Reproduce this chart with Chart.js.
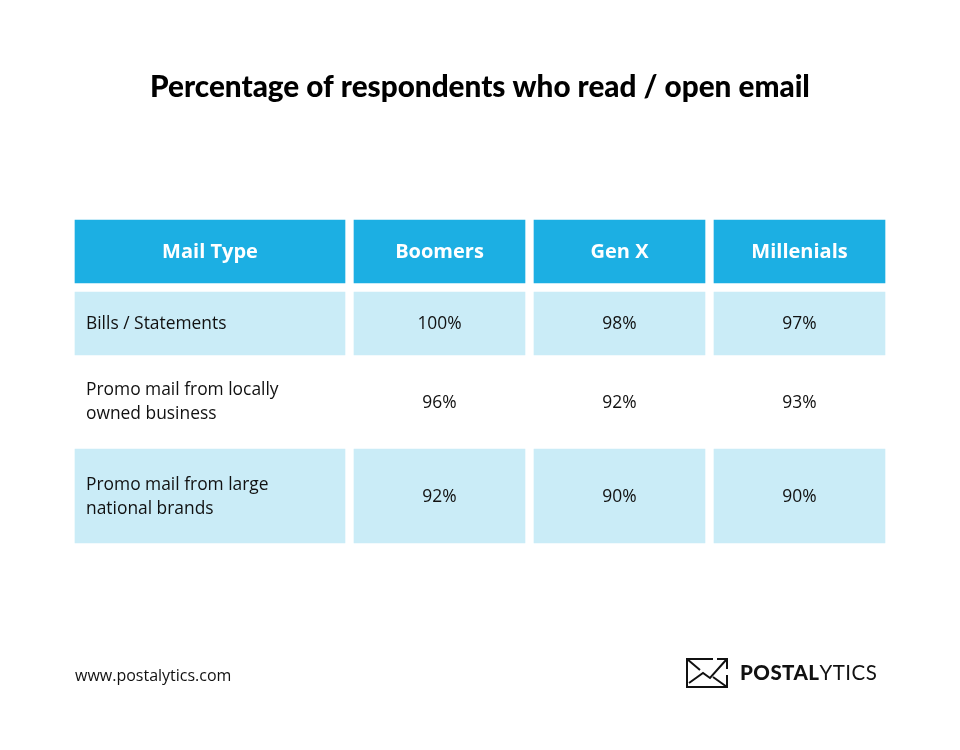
<!DOCTYPE html>
<html>
<head>
<meta charset="utf-8">
<title>Percentage of respondents who read / open email</title>
<script src="https://cdn.jsdelivr.net/npm/chart.js@4/dist/chart.umd.min.js"></script>
<style>
  html, body { margin: 0; padding: 0; background: #fff; }
  canvas { display: block; }
</style>
</head>
<body>
<canvas id="tableChart" width="960" height="750"></canvas>
<script>
// Table data
const columnHeaders = ['Mail Type', 'Boomers', 'Gen X', 'Millenials'];
const mailTypes = [
  ['Bills / Statements'],
  ['Promo mail from locally', 'owned business'],
  ['Promo mail from large', 'national brands']
];
const boomers = [100, 96, 92];
const genX = [98, 92, 90];
const millenials = [97, 93, 90];

// Table layout, in canvas units
const colLeft = [75, 354, 534, 714];
const colWidth = [270, 171, 171, 171];
const rowTop = [220, 292, 364, 449];
const rowBottom = [283, 355, 439, 543];

const headerColor = '#1cafe3';
const stripeColor = '#caecf7';
const textColor = '#111111';

// every column is one dataset of floating bars: header + body rows
const columnValues = [mailTypes.map(() => null), boomers, genX, millenials];
const datasets = columnValues.map((values, c) => ({
  label: columnHeaders[c],
  barThickness: colWidth[c],
  data: rowTop.map((top, r) => ({ x: colLeft[c] + colWidth[c] / 2, y: [top, rowBottom[r]] })),
  backgroundColor: [headerColor, stripeColor, 'rgba(0,0,0,0)', stripeColor],
  borderWidth: 0
}));

const textPlugin = {
  id: 'tableText',
  afterDatasetsDraw(chart) {
    const ctx = chart.ctx;
    const { x: xs, y: ys } = chart.scales;
    ctx.save();
    ctx.textBaseline = 'middle';

    // title
    ctx.fillStyle = '#000';
    ctx.textAlign = 'center';
    ctx.font = '900 29.7px Lato';
    ctx.fillText('Percentage of respondents who read / open email', xs.getPixelForValue(480), ys.getPixelForValue(87.5));

    columnValues.forEach((values, c) => {
      const bars = chart.getDatasetMeta(c).data;
      const cx = bars[0].x;
      // header
      ctx.fillStyle = '#fff';
      ctx.textAlign = 'center';
      ctx.font = '700 20px "Open Sans"';
      ctx.fillText(columnHeaders[c], cx, bars[0].getCenterPoint().y + 1);
      // body
      ctx.fillStyle = textColor;
      ctx.font = '400 17.4px "Open Sans"';
      mailTypes.forEach((lines, r) => {
        const cy = bars[r + 1].getCenterPoint().y + 1;
        if (c === 0) {
          ctx.textAlign = 'left';
          lines.forEach((line, i) => {
            ctx.fillText(line, xs.getPixelForValue(colLeft[0] + 11), cy + (i - (lines.length - 1) / 2) * 24);
          });
        } else {
          ctx.textAlign = 'center';
          ctx.fillText(values[r] + '%', cx, cy + (r === 1 ? 1 : 0));
        }
      });
    });

    // footer
    ctx.textAlign = 'left';
    ctx.font = '400 16px "Open Sans"';
    ctx.fillText('www.postalytics.com', xs.getPixelForValue(75), ys.getPixelForValue(676));

    // logo envelope
    ctx.strokeStyle = '#111';
    ctx.lineWidth = 2;
    ctx.beginPath();
    ctx.moveTo(713, 659); ctx.lineTo(687, 659); ctx.lineTo(687, 687); ctx.lineTo(727, 687); ctx.lineTo(727, 675);
    ctx.moveTo(717, 659); ctx.lineTo(727, 659); ctx.lineTo(727, 669);
    ctx.moveTo(687, 659); ctx.lineTo(700, 670);
    ctx.moveTo(689, 683); ctx.lineTo(703, 673); ctx.lineTo(710, 678); ctx.lineTo(726, 660);
    ctx.moveTo(713, 677); ctx.lineTo(727, 687);
    ctx.stroke();

    // logo wordmark
    ctx.fillStyle = '#111';
    ctx.font = '900 20.5px Lato';
    ctx.letterSpacing = '0.45px';
    ctx.fillText('POSTAL', 740, 673);
    const boldWidth = ctx.measureText('POSTAL').width;
    ctx.font = '400 20.5px Lato';
    ctx.fillText('YTICS', 740 + boldWidth, 673);
    ctx.restore();
  }
};

new Chart(document.getElementById('tableChart'), {
  type: 'bar',
  data: { datasets },
  options: {
    responsive: false,
    animation: false,
    parsing: { xAxisKey: 'x', yAxisKey: 'y' },
    layout: { padding: 0 },
    datasets: { bar: { grouped: false } },
    plugins: { legend: { display: false }, title: { display: false }, tooltip: { enabled: false } },
    scales: {
      x: { type: 'linear', display: false, offset: false, min: 0, max: 960 },
      y: { type: 'linear', display: false, reverse: true, min: 0, max: 750 }
    }
  },
  plugins: [textPlugin]
});
</script>
</body>
</html>
